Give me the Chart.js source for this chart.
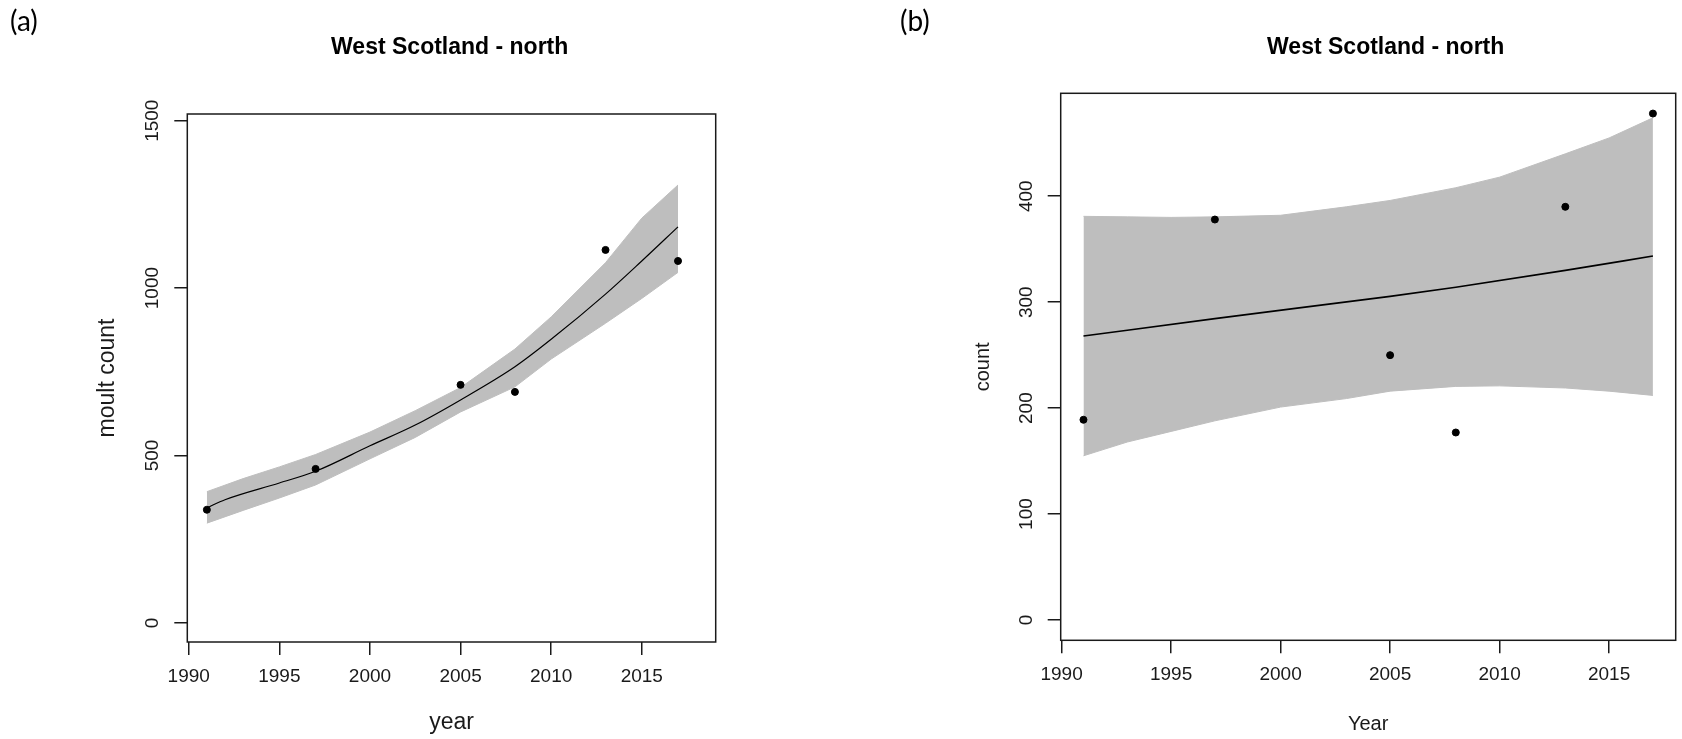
<!DOCTYPE html>
<html>
<head>
<meta charset="utf-8">
<title>West Scotland - north</title>
<script src="https://cdn.jsdelivr.net/npm/chart.js@4.4.1/dist/chart.umd.min.js"></script>
<style>
  html, body { margin: 0; padding: 0; background: #fff; }
  .panel { position: absolute; top: 0; width: 841px; height: 739px; }
  .panel canvas { display: block; }
  #panelA { left: 0; }
  #panelB { left: 841px; }
</style>
</head>
<body>
<div class="panel" id="panelA"><canvas id="chartA" width="841" height="739"></canvas></div>
<div class="panel" id="panelB"><canvas id="chartB" width="841" height="739"></canvas></div>
<script>
// survey years and observed counts
var years = [1991, 1997, 2005, 2008, 2013, 2017];
var moultCounts = [338, 460, 711, 690, 1114, 1081];
var counts = [189, 378, 250, 177, 390, 478];

// (a) fitted moult count with its confidence band
var fitYearsA = [1991, 1992, 1995, 1997, 2000, 2002.5, 2005, 2008, 2010, 2013, 2015, 2017];
var fitA = [344, 368, 418, 453, 529, 591, 666, 765, 847, 982, 1081, 1183];
var bandYearsA = [1991, 1993, 1995, 1997, 2000, 2002.5, 2005, 2008, 2010, 2013, 2015, 2017];
var upperA = [392, 431, 466, 503, 570, 634, 703, 818, 914, 1076, 1209, 1308];
var lowerA = [298, 336, 373, 412, 490, 554, 630, 705, 788, 895, 969, 1047];

// (b) fitted count with its confidence band
var fitYearsB = [1991, 1997, 2005, 2008, 2013, 2017];
var fitB = [268, 284.5, 305.5, 314, 330, 343.5];
var bandYearsB = [1991, 1993, 1995, 1997, 2000, 2003, 2005, 2008, 2010, 2013, 2015, 2017];
var upperB = [381, 380.5, 380, 380.5, 382, 390, 396, 408, 418, 440, 455, 474];
var lowerB = [155, 168, 178, 188, 201, 209, 216, 220.5, 221, 219, 216, 212];

// tick marks
var yearTicks = [1990, 1995, 2000, 2005, 2010, 2015];
var ticksA = [0, 500, 1000, 1500];
var ticksB = [0, 100, 200, 300, 400];

var INK = '#1a1a1a';
var BAND = '#bebebe';
var SANS = '"Liberation Sans", Arial, sans-serif';

function pts(xs, ys) {
  return xs.map(function (x, i) { return { x: x, y: ys[i] }; });
}

function font(size, weight) {
  return { family: SANS, size: size, weight: weight || 'normal', lineHeight: 1 };
}

function fixedTicks(values) {
  return function (scale) {
    scale.ticks = values.map(function (v) { return { value: v }; });
  };
}

// box round the plot region, panel title and panel letter
var framePlugin = {
  id: 'frame',
  afterDraw: function (chart, args, opts) {
    var ctx = chart.ctx, a = chart.chartArea;
    ctx.save();
    ctx.strokeStyle = INK;
    ctx.lineWidth = 1.5;
    ctx.strokeRect(a.left, a.top, a.right - a.left, a.bottom - a.top);
    ctx.fillStyle = '#000';
    ctx.textBaseline = 'alphabetic';
    ctx.font = 'bold 23px ' + SANS;
    ctx.textAlign = 'center';
    ctx.fillText(opts.title, opts.titleX, opts.titleY);
    ctx.font = '28px Lato, sans-serif';
    ctx.textAlign = 'left';
    ctx.fillText(opts.letter, opts.letterX, opts.letterY);
    ctx.restore();
  }
};

function gridOpts() {
  return { drawOnChartArea: false, drawTicks: true, tickLength: 13, color: INK, lineWidth: 1.5 };
}

function makeDatasets(px, py, fx, fy, bx, bu, bl, lineWidth) {
  return [
    { data: pts(px, py), showLine: false, pointRadius: 3.5, pointBorderWidth: 1,
      pointBackgroundColor: '#000', pointBorderColor: '#000' },
    { data: pts(fx, fy), showLine: true, borderColor: '#000', borderWidth: lineWidth,
      pointRadius: 0, cubicInterpolationMode: 'monotone', fill: false },
    { data: pts(bx, bu), showLine: true, borderColor: BAND, borderWidth: 1,
      pointRadius: 0, backgroundColor: BAND, fill: '+1' },
    { data: pts(bx, bl), showLine: true, borderColor: BAND, borderWidth: 1,
      pointRadius: 0, fill: false }
  ];
}

function makeChart(id, cfg) {
  return new Chart(document.getElementById(id), {
    type: 'scatter',
    data: { datasets: cfg.datasets },
    options: {
      responsive: false,
      animation: false,
      layout: { padding: cfg.padding },
      plugins: {
        legend: { display: false },
        tooltip: { enabled: false },
        frame: cfg.frame
      },
      scales: {
        x: {
          type: 'linear', position: 'bottom', min: cfg.xMin, max: cfg.xMax,
          afterBuildTicks: fixedTicks(yearTicks),
          afterFit: function (s) { s.height = cfg.xHeight; },
          grid: gridOpts(),
          border: { display: false },
          ticks: {
            autoSkip: false, minRotation: 0, maxRotation: 0, padding: 12,
            color: INK, font: font(19),
            callback: function (v) { return String(v); }
          },
          title: { display: true, text: cfg.xTitle, color: INK, font: font(cfg.titleSize),
                   padding: { top: 0, bottom: cfg.xTitlePad } }
        },
        y: {
          type: 'linear', position: 'left', min: cfg.yMin, max: cfg.yMax,
          afterBuildTicks: fixedTicks(cfg.yTicks),
          afterFit: function (s) { s.width = cfg.yWidth; },
          grid: gridOpts(),
          border: { display: false },
          ticks: {
            autoSkip: false, minRotation: 90, maxRotation: 90, crossAlign: 'center',
            padding: cfg.yTickPad, color: INK, font: font(19),
            callback: function (v) { return String(v); }
          },
          title: { display: true, text: cfg.yTitle, color: INK, font: font(cfg.titleSize),
                   padding: { top: cfg.yTitlePad, bottom: 0 } }
        }
      }
    },
    plugins: [framePlugin]
  });
}

makeChart('chartA', {
  datasets: makeDatasets(years, moultCounts, fitYearsA, fitA, bandYearsA, upperA, lowerA, 1.2),
  padding: { left: 0, right: 125.3, top: 114, bottom: 0 },
  xMin: 1989.92, xMax: 2019.08, yMin: -57, yMax: 1520, yTicks: ticksA,
  xHeight: 97, yWidth: 187.3, yTickPad: 0,
  xTitle: 'year', yTitle: 'moult count', titleSize: 23, xTitlePad: 5, yTitlePad: 96.5,
  frame: { title: 'West Scotland - north', titleX: 449.7, titleY: 53.5,
           letter: '(a)', letterX: 10, letterY: 31 }
});

makeChart('chartB', {
  datasets: makeDatasets(years, counts, fitYearsB, fitB, bandYearsB, upperB, lowerB, 1.6),
  padding: { left: 0, right: 6.3, top: 93.3, bottom: 0 },
  xMin: 1989.96, xMax: 2018.04, yMin: -19.12, yMax: 497.12, yTicks: ticksB,
  xHeight: 98.7, yWidth: 219.7, yTickPad: 5,
  xTitle: 'Year', yTitle: 'count', titleSize: 20, xTitlePad: 4.4, yTitlePad: 132.1,
  frame: { title: 'West Scotland - north', titleX: 544.7, titleY: 53.5,
           letter: '(b)', letterX: 59, letterY: 31 }
});
</script>
</body>
</html>
